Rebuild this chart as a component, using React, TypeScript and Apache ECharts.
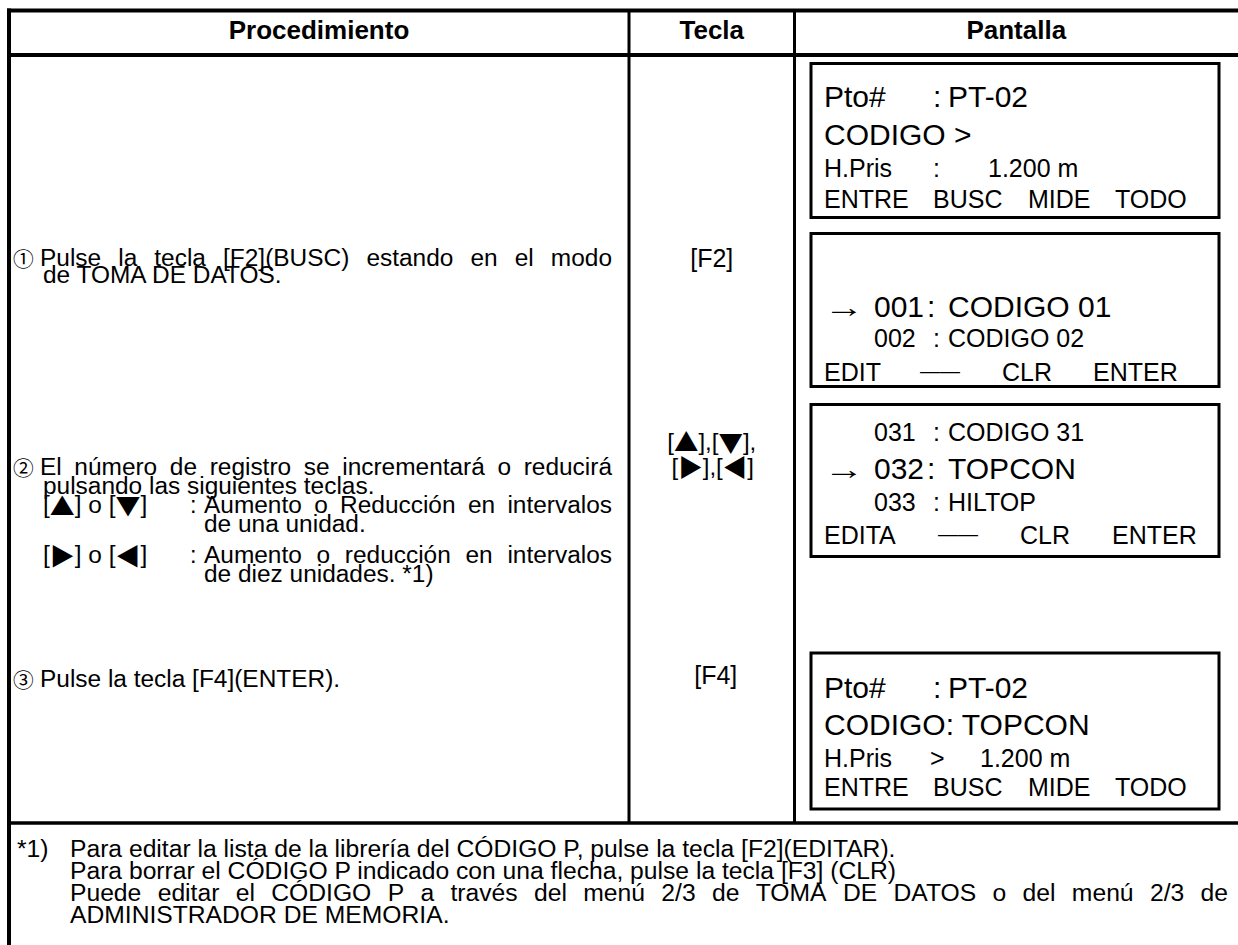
import React, { useEffect, useRef } from "react";
import * as echarts from "echarts";

const SANS = '"Liberation Sans", Arial, Helvetica, sans-serif';
const CJK = '"Noto Sans CJK JP", "DejaVu Sans", sans-serif';
const TRIANGLES = "▲▼▶◀";
const CIRCLED = "①②③";

// ---- content ----
const headers = ["Procedimiento", "Tecla", "Pantalla"];
const step1 = ["①", "Pulse la tecla [F2](BUSC) estando en el modo", "de TOMA DE DATOS."];
const step2 = ["②", "El número de registro se incrementará o reducirá", "pulsando las siguientes teclas."];
const keyRowUpDown = ["[▲] o [▼]", ":", "Aumento o Reducción en intervalos", "de una unidad."];
const keyRowRightLeft = ["[▶] o [◀]", ":", "Aumento o reducción en intervalos", "de diez unidades. *1)"];
const step3 = ["③", "Pulse la tecla [F4](ENTER)."];
const keyColumn = ["[F2]", "[▲],[▼],", "[▶],[◀]", "[F4]"];
const screen1 = [["Pto#", ":", "PT-02"], ["CODIGO >"], ["H.Pris", ":", "1.200 m"], ["ENTRE", "BUSC", "MIDE", "TODO"]];
const screen2 = [["→", "001", ":", "CODIGO 01"], ["002", ":", "CODIGO 02"], ["EDIT", "——", "CLR", "ENTER"]];
const screen3 = [["031", ":", "CODIGO 31"], ["→", "032", ":", "TOPCON"], ["033", ":", "HILTOP"], ["EDITA", "——", "CLR", "ENTER"]];
const screen4 = [["Pto#", ":", "PT-02"], ["CODIGO: TOPCON"], ["H.Pris", ">", "1.200 m"], ["ENTRE", "BUSC", "MIDE", "TODO"]];
const footnote = [
  "*1)",
  "Para editar la lista de la librería del CÓDIGO P, pulse la tecla [F2](EDITAR).",
  "Para borrar el CÓDIGO P indicado con una flecha, pulse la tecla [F3] (CLR)",
  "Puede editar el CÓDIGO P a través del menú 2/3 de TOMA DE DATOS o del menú 2/3 de",
  "ADMINISTRADOR DE MEMORIA.",
];

// ---- text helpers ----
let ctx: CanvasRenderingContext2D | null = null;
function measure(t: string, fs: number, fam: string, weight = "normal") {
  if (!ctx) ctx = document.createElement("canvas").getContext("2d");
  ctx!.font = `${weight} ${fs}px ${fam}`;
  return ctx!.measureText(t).width;
}
type Run = { t: string; kind: "sans" | "tri" | "circ" };
function kindOf(ch: string): Run["kind"] {
  if (TRIANGLES.includes(ch)) return "tri";
  if (CIRCLED.includes(ch)) return "circ";
  return "sans";
}
function splitRuns(s: string): Run[] {
  const out: Run[] = [];
  for (const ch of Array.from(s)) {
    const k = kindOf(ch);
    if (out.length && out[out.length - 1].kind === k) out[out.length - 1].t += ch;
    else out.push({ t: ch, kind: k });
  }
  return out;
}
function runFont(r: Run, fs: number) {
  if (r.kind === "tri") return { f: fs * 1.02, fam: CJK };
  if (r.kind === "circ") return { f: fs * 0.88, fam: CJK };
  return { f: fs, fam: SANS };
}
function width(s: string, fs: number, weight = "normal", sx = 1) {
  return (
    splitRuns(s).reduce((a, r) => {
      const { f, fam } = runFont(r, fs);
      return a + measure(r.t, f, fam, weight);
    }, 0) * sx
  );
}
function text(s: string, x: number, base: number, fs: number, weight = "normal", align = "left", sx = 1): any[] {
  const total = width(s, fs, weight, sx);
  let cx = align === "center" ? x - total / 2 : align === "right" ? x - total : x;
  const out: any[] = [];
  for (const r of splitRuns(s)) {
    const { f, fam } = runFont(r, fs);
    const y = r.kind === "sans" ? base - 0.3465 * f : base - 0.34 * fs;
    out.push({
      type: "text",
      x: cx,
      y,
      scaleX: sx,
      silent: true,
      style: { text: r.t, fill: "#000", fontSize: f, fontFamily: fam, fontWeight: weight, align: "left", verticalAlign: "middle" },
    });
    cx += measure(r.t, f, fam, weight) * sx;
  }
  return out;
}
function justify(s: string, x0: number, x1: number, base: number, fs: number, sx = 1): any[] {
  const words = s.split(" ");
  const ws = words.map((w) => width(w, fs, "normal", sx));
  const total = ws.reduce((a, b) => a + b, 0);
  const gap = words.length > 1 ? (x1 - x0 - total) / (words.length - 1) : 0;
  let x = x0;
  const out: any[] = [];
  words.forEach((w, i) => {
    out.push(...text(w, x, base, fs, "normal", "left", sx));
    x += ws[i] + gap;
  });
  return out;
}
function line(x1: number, y1: number, x2: number, y2: number, lw: number) {
  return { type: "line", silent: true, shape: { x1, y1, x2, y2 }, style: { stroke: "#000", lineWidth: lw } };
}
function box(x: number, y: number, w: number, h: number) {
  return { type: "rect", silent: true, shape: { x, y, width: w, height: h }, style: { fill: "none", stroke: "#000", lineWidth: 3 } };
}

function buildElements(): any[] {
  const els: any[] = [];
  // table frame
  const L = 9, R = 1240, TOP = 10.5, HEAD = 55, V1 = 629, V2 = 794.5, FOOT = 823;
  els.push(line(7, TOP, R, TOP, 4));
  els.push(line(7, HEAD, R, HEAD, 4));
  els.push(line(L, 8.5, L, 945, 4));
  els.push(line(V1, TOP, V1, FOOT, 3));
  els.push(line(V2, TOP, V2, FOOT, 3));
  els.push(line(7, FOOT, R, FOOT, 3.5));

  // headers
  const HF = 26;
  els.push(...text(headers[0], (L + V1) / 2, 39, HF, "bold", "center"));
  els.push(...text(headers[1], (V1 + V2) / 2, 39, HF, "bold", "center"));
  els.push(...text(headers[2], (V2 + 1238) / 2, 39, HF, "bold", "center"));

  // procedure column
  const FS = 23.5, PSX = 1.04, PX = 40, PR = 612, NUMX = 13;
  els.push(...text(step1[0], NUMX, 266, FS));
  els.push(...justify(step1[1], PX, PR, 266, FS, PSX));
  els.push(...text(step1[2], 43, 283, FS, "normal", "left", PSX));

  els.push(...text(step2[0], NUMX, 475, FS));
  els.push(...justify(step2[1], PX, PR, 475, FS, PSX));
  els.push(...text(step2[2], 43, 494, FS, "normal", "left", PSX));

  const KX = 43, COLX = 190, DX = 204;
  const rows = [
    { r: keyRowUpDown, b1: 513, b2: 532 },
    { r: keyRowRightLeft, b1: 563, b2: 582 },
  ];
  rows.forEach(({ r, b1, b2 }) => {
    els.push(...text(r[0], KX, b1, FS, "normal", "left", PSX));
    els.push(...text(r[1], COLX, b1, FS));
    els.push(...justify(r[2], DX, PR, b1, FS, PSX));
    els.push(...text(r[3], DX, b2, FS, "normal", "left", PSX));
  });

  els.push(...text(step3[0], NUMX, 687, FS));
  els.push(...text(step3[1], 40, 687, FS, "normal", "left", PSX));

  // key column
  const KC = (V1 + V2) / 2;
  els.push(...text(keyColumn[0], KC, 267, 25, "normal", "center"));
  els.push(...text(keyColumn[1], KC, 450, 24, "normal", "center"));
  els.push(...text(keyColumn[2], KC + 1, 475, 24, "normal", "center"));
  els.push(...text(keyColumn[3], KC + 4, 684, 25, "normal", "center"));

  // screens
  const SX = 811, SW = 408, BIG = 30, SM = 25;
  const X0 = 824, NUM = 874, COL = 933, VAL = 948;

  const ptoScreen = (rowsT: string[][], top: number, sepX: number, valX: number, gap: number[]) => {
    els.push(...text(rowsT[0][0], X0, top + gap[0], BIG));
    els.push(...text(rowsT[0][1], COL, top + gap[0], BIG));
    els.push(...text(rowsT[0][2], VAL, top + gap[0], BIG));
    els.push(...text(rowsT[1][0], X0, top + gap[1], BIG));
    els.push(...text(rowsT[2][0], X0, top + gap[2], SM));
    els.push(...text(rowsT[2][1], sepX, top + gap[2], SM));
    els.push(...text(rowsT[2][2], valX, top + gap[2], SM));
    const mx = [X0, 933, 1028, 1115];
    rowsT[3].forEach((w, i) => els.push(...text(w, mx[i], top + gap[3], SM)));
  };

  // screen 1
  els.push(box(SX, 63.5, SW, 154));
  ptoScreen(screen1, 63.5, COL, 988, [43.5, 81.5, 113.5, 144.5]);

  // screen 2
  const arrow = (y: number) => text("→", X0, y, 28, "normal", "left", 1.45);
  els.push(box(SX, 233.5, SW, 153));
  els.push(...arrow(317));
  els.push(...text(screen2[0][1], NUM, 317, BIG));
  els.push(...text(screen2[0][2], 927, 317, BIG));
  els.push(...text(screen2[0][3], VAL, 317, BIG));
  els.push(...text(screen2[1][0], NUM, 347, SM));
  els.push(...text(screen2[1][1], COL, 347, SM));
  els.push(...text(screen2[1][2], VAL, 347, SM));
  const m2 = [X0, 920, 1002, 1093];
  screen2[2].forEach((w, i) =>
    els.push(...(w === "——" ? text(w, m2[i], 378, 20) : text(w, m2[i], 381, SM)))
  );

  // screen 3
  els.push(box(SX, 404.5, SW, 152));
  els.push(...text(screen3[0][0], NUM, 441, SM));
  els.push(...text(screen3[0][1], COL, 441, SM));
  els.push(...text(screen3[0][2], VAL, 441, SM));
  els.push(...arrow(479));
  els.push(...text(screen3[1][1], NUM, 479, BIG));
  els.push(...text(screen3[1][2], 927, 479, BIG));
  els.push(...text(screen3[1][3], VAL, 479, BIG));
  els.push(...text(screen3[2][0], NUM, 511, SM));
  els.push(...text(screen3[2][1], COL, 511, SM));
  els.push(...text(screen3[2][2], VAL, 511, SM));
  const m3 = [X0, 938, 1020, 1112];
  screen3[3].forEach((w, i) =>
    els.push(...(w === "——" ? text(w, m3[i], 541, 20) : text(w, m3[i], 544, SM)))
  );

  // screen 4
  els.push(box(SX, 653, SW, 156));
  ptoScreen(screen4, 653, 930, 980, [45, 82, 114, 143]);

  // footnote
  const FF = 23.5, FSX = 1.05, FX = 70;
  els.push(...text(footnote[0], 17, 857, FF, "normal", "left", FSX));
  els.push(...text(footnote[1], FX, 857, FF, "normal", "left", FSX));
  els.push(...text(footnote[2], FX, 879, FF, "normal", "left", FSX));
  els.push(...justify(footnote[3], FX, 1228, 901, FF, FSX));
  els.push(...text(footnote[4], FX, 923, FF, "normal", "left", FSX));

  return els;
}

export default function App() {
  const ref = useRef<HTMLDivElement>(null);
  useEffect(() => {
    if (!ref.current) return;
    const chart = echarts.init(ref.current, undefined, { renderer: "svg" });
    chart.setOption({
      animation: false,
      backgroundColor: "#ffffff",
      graphic: { elements: buildElements() },
    });
    return () => chart.dispose();
  }, []);
  return (
    <div
      ref={ref}
      style={{ position: "absolute", left: 0, top: 0, width: 1238, height: 945, background: "#fff" }}
    />
  );
}
